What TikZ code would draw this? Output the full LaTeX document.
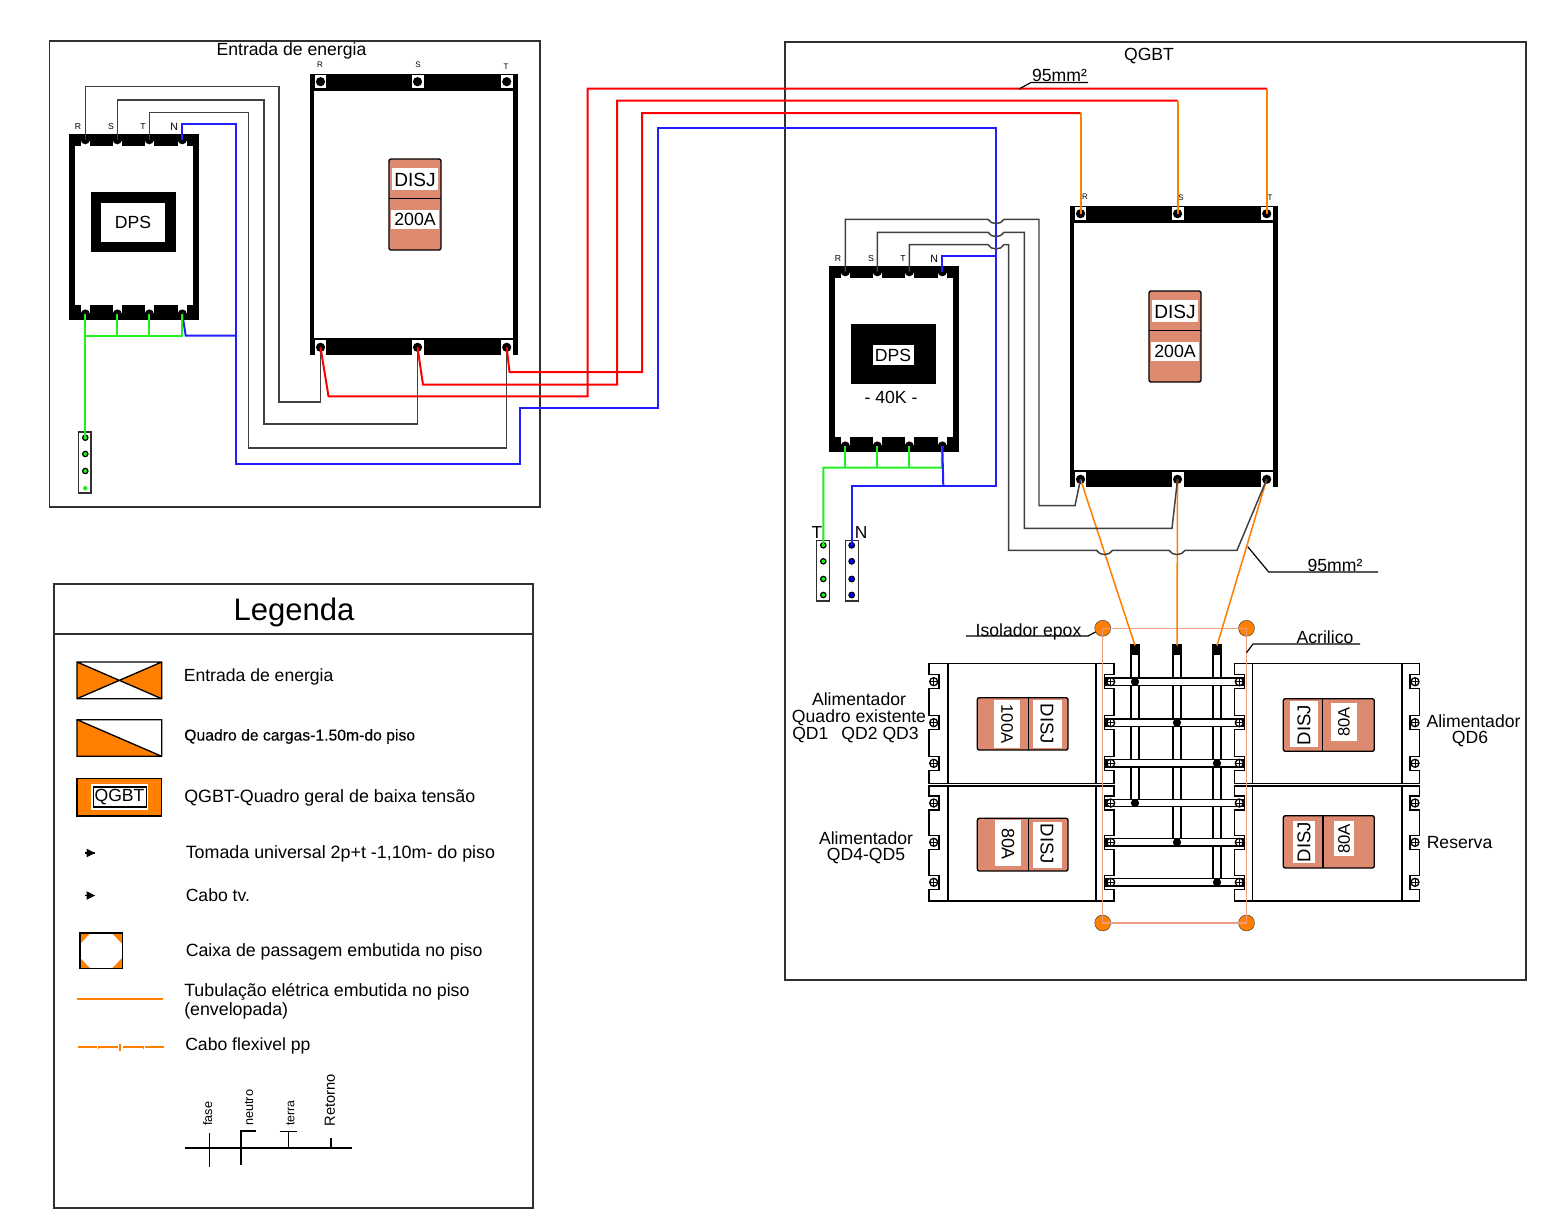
\documentclass[tikz,border=0pt]{standalone}
\usepackage{fontspec}
\setmainfont{Liberation Sans}
\newfontfamily\fakebold[FakeBold=0.25]{Liberation Sans}
\definecolor{brk}{HTML}{DE8A70}
\definecolor{org}{HTML}{FF8000}
\definecolor{acr}{HTML}{F09C80}
\definecolor{gwire}{HTML}{22EE22}
\definecolor{bwire}{HTML}{2020FF}
\definecolor{kwire}{HTML}{404040}
\definecolor{frm}{HTML}{303030}
\tikzset{
  txt/.style={inner sep=0pt,font=\fontsize{13.2}{15}\selectfont},
  dtxt/.style={txt,yshift=-1.1pt},
  lbl/.style={inner sep=0pt,font=\fontsize{14.3}{16}\selectfont},
  rlbl/.style={inner sep=0pt,font=\fontsize{13.9}{16}\selectfont},
  tiny/.style={inner sep=0pt,font=\fontsize{6}{7}\selectfont},
  term/.style={circle,fill=black,inner sep=0pt,minimum size=6.9pt},
  gdot/.style={circle,fill=gwire,draw=black,line width=0.9pt,inner sep=0pt,minimum size=4pt},
  ndot/.style={circle,fill=blue!90!black,draw=black,line width=0.7pt,inner sep=0pt,minimum size=4.4pt},
  bdot/.style={circle,fill=black,inner sep=0pt,minimum size=6.2pt},
  wire/.style={line width=1.5pt,line join=miter},
  kw/.style={line width=1.1pt,line join=miter,draw=kwire},
  rw/.style={wire,draw=red},
  ow/.style={wire,draw=org},
  blw/.style={wire,draw=bwire},
  grw/.style={wire,draw=gwire},
  frame/.style={draw=frm,line width=1.1pt},
  pline/.style={draw=black,line width=1pt},
  iso/.style={circle,fill=org,draw=frm,line width=0.3pt,inner sep=0pt,minimum size=12pt},
  lead/.style={draw=black,line width=0.9pt},
}
% DPS body: terminals named R,S,T,N (top) and r,s,t,n (bottom)
\newcommand{\dpsbody}{%
  \fill[black] (69,134) rectangle (198.7,320);
  \fill[white] (75,145.6) rectangle (192.6,305);
  \foreach \x in {85.3,117.3,149.3,182.3}{
    \fill[white] (\x-4.5,141) rectangle (\x+4.5,146);
    \fill[white] (\x-4.5,305) rectangle (\x+4.5,313);}
  \node[term] (R) at (85.3,139.7) {};
  \node[term] (S) at (117.3,139.7) {};
  \node[term] (T) at (149.3,139.7) {};
  \node[term] (N) at (182.3,139.7) {};
  \node[term] (r) at (85.3,314) {};
  \node[term] (s) at (117.3,314) {};
  \node[term] (t) at (149.3,314) {};
  \node[term] (n) at (182.3,314) {};
  \node[tiny,font=\fontsize{6.5}{7}\selectfont] (lR) at (78,127) {R};
  \node[tiny,font=\fontsize{6.5}{7}\selectfont] (lS) at (111,127) {S};
  \node[tiny,font=\fontsize{6.5}{7}\selectfont] (lT) at (143,127) {T};
  \node[tiny,font=\fontsize{8}{9}\selectfont] (lN) at (174.3,127) {N};
}
% breaker body: terminals R,S,T (top) r,s,t (bottom)
\newcommand{\brkbody}{%
  \fill[black] (309.6,74) rectangle (517.5,355);
  \fill[white] (314.3,91) rectangle (512.8,338);
  \foreach \x/\w in {320.5/5.5,417.5/6,506.7/6}{
    \fill[white] (\x-\w,75) rectangle (\x+\w,88);
    \fill[white] (\x-\w,339.5) rectangle (\x+\w,355);}
  \node[term] (R) at (320.5,81.7) {};
  \node[term] (S) at (417.5,81.7) {};
  \node[term] (T) at (506.7,81.7) {};
  \node[term] (r) at (320.5,347.3) {};
  \node[term] (s) at (417.5,347.3) {};
  \node[term] (t) at (506.7,347.3) {};
  \draw[black,fill=brk,line width=1pt,rounded corners=1.5pt] (389,159) rectangle (441,250);
  \draw[black,line width=1pt] (389,198.7) -- (441,198.7);
  \fill[white] (392,168) rectangle (438,190);
  \fill[white] (391,210) rectangle (439,229);
  \node[lbl] (dj) at (415,179.5) {DISJ};
  \node[lbl,font=\fontsize{13.3}{16}\selectfont] (am) at (415,219.5) {200A};
}
% panel outline with notches: left x, left notch x, right notch x, right x, top, bottom, three screw rows
\newcommand{\panel}[9]{%
  \draw[pline,fill=white] (#1,#5) -- (#4,#5)
     -- (#4,#7-7) -- (#3,#7-7) -- (#3,#7+7) -- (#4,#7+7)
     -- (#4,#8-7) -- (#3,#8-7) -- (#3,#8+7) -- (#4,#8+7)
     -- (#4,#9-7) -- (#3,#9-7) -- (#3,#9+7) -- (#4,#9+7)
     -- (#4,#6) -- (#1,#6)
     -- (#1,#9+7) -- (#2,#9+7) -- (#2,#9-7) -- (#1,#9-7)
     -- (#1,#8+7) -- (#2,#8+7) -- (#2,#8-7) -- (#1,#8-7)
     -- (#1,#7+7) -- (#2,#7+7) -- (#2,#7-7) -- (#1,#7-7) -- cycle;
  \draw[pline] (\innA,#5) -- (\innA,#6) (\innB,#5) -- (\innB,#6);
}
\newcommand{\screw}[2]{%
  \draw[black,line width=1pt,fill=white] (#1,#2) circle (4);
  \draw[black,line width=0.75pt] (#1-4,#2) -- (#1+4,#2) (#1,#2-4) -- (#1,#2+4);
}
\newcommand{\hbus}[1]{%
  \draw[pline,fill=white] (1106,#1-3.8) rectangle (1244,#1+3.8);
}
\newcommand{\vbus}[2]{%
  \draw[pline,fill=white] (#1-3.9,645) rectangle (#1+3.9,#2);
  \fill[black] (#1-4.2,645) rectangle (#1+4.2,655);
}
\begin{document}
\begin{tikzpicture}[x=0.75pt,y=-0.75pt]
\useasboundingbox (0,0) rectangle (1562,1228);
\fill[white] (0,0) rectangle (1562,1228);

% ---------- frames
\draw[frame] (49.5,41) rectangle (540,507);
\node[dtxt] (titleE) at (291.5,49) {Entrada de energia};
\draw[frame] (785,42) rectangle (1526,980);
\node[dtxt] (titleQ) at (1149,55) {QGBT};

% ---------- entrance board
\begin{scope}[name prefix=a]\dpsbody\end{scope}
\fill[black] (90.7,192) rectangle (175.7,252);
\fill[white] (100.7,203) rectangle (165,242);
\node[txt] (adps) at (133,222.5) {DPS};
\begin{scope}[name prefix=b]\brkbody\end{scope}
\node[tiny] (blR) at (320,65) {R};
\node[tiny] (blS) at (418,65) {S};
\node[tiny] (blT) at (506,66.5) {T};

% ---------- QGBT devices
\begin{scope}[shift={(760,132)},name prefix=c]\dpsbody\end{scope}
\fill[black] (850.7,324) rectangle (935.7,384.3);
\fill[white] (873,345) rectangle (913.7,364.7);
\node[txt] (cdps) at (893,355) {DPS};
\node[txt] (c40k) at (891,397.5) {- 40K -};
\begin{scope}[shift={(760,132)},name prefix=d]\brkbody\end{scope}
\node[tiny] (dlR) at (1085,197) {R};
\node[tiny] (dlS) at (1181,197.5) {S};
\node[tiny] (dlT) at (1270,198) {T};

% ---------- ground bars
\draw[frame,fill=white] (78.5,432) rectangle (91,493);
\node[gdot] (g1) at (85.3,437.7) {};
\node[gdot] (g2) at (85.3,454) {};
\node[gdot] (g3) at (85.3,471) {};
\node[circle,fill=gwire,inner sep=0pt,minimum size=3.4pt] (g4) at (85.3,488.3) {};
\draw[frame,fill=white] (816.7,540.7) rectangle (829.7,601);
\node[gdot] (t1) at (823.3,545.3) {};
\node[gdot] (t2) at (823.3,561.3) {};
\node[gdot] (t3) at (823.3,579) {};
\node[gdot] (t4) at (823.3,595) {};
\draw[frame,fill=white] (845.7,540.7) rectangle (858.3,601);
\node[ndot] (n1) at (851.7,545.3) {};
\node[ndot] (n2) at (851.7,561.3) {};
\node[ndot] (n3) at (851.7,579) {};
\node[ndot] (n4) at (851.7,595) {};
\node[txt,font=\fontsize{13}{15}\selectfont] (lblT) at (817,532.5) {T};
\node[txt,font=\fontsize{13}{15}\selectfont] (lblN) at (861,533) {N};

% ---------- busbar assembly
\def\innA{948}\def\innB{1096}
\panel{929}{939}{1104.3}{1114}{663.7}{783.5}{681.7}{722.7}{763.3}
\panel{929}{939}{1104.3}{1114}{786}{901}{803}{842.3}{882.3}
\def\innA{1252.7}\def\innB{1402}
\panel{1234.3}{1244.3}{1410}{1419.3}{663.7}{783.5}{681.7}{722.7}{763.3}
\panel{1234.3}{1244.3}{1410}{1419.3}{786}{901}{803}{842.3}{882.3}
\vbus{1135}{803}
\vbus{1177}{842.3}
\vbus{1217}{882.3}
\foreach \y in {681.7,722.7,763.3,803,842.3,882.3}{\hbus{\y}}
\foreach \y in {681.7,722.7,763.3,803,842.3,882.3}{
  \screw{933.7}{\y}\screw{1110.7}{\y}\screw{1239.3}{\y}\screw{1415}{\y}}
\node[bdot] (vR) at (1135,650) {};
\node[bdot] (vS) at (1177,650) {};
\node[bdot] (vT) at (1217,650) {};
\node[bdot] (j1) at (1135,681.7) {};
\node[bdot] (j2) at (1177,722.7) {};
\node[bdot] (j3) at (1217,763.3) {};
\node[bdot] (j4) at (1135,803) {};
\node[bdot] (j5) at (1177,842.3) {};
\node[bdot] (j6) at (1217,882.3) {};

% ---------- small breakers
\draw[black,fill=brk,line width=1pt,rounded corners=1.5pt] (977.3,697.7) rectangle (1068,750);
\draw[black,line width=1pt] (1028.7,697.7) -- (1028.7,750);
\fill[white] (994,700) rectangle (1020,748);
\fill[white] (1033,700) rectangle (1062,748);
\node[rlbl,rotate=-90,font=\fontsize{12.5}{15}\selectfont] (b1a) at (1007,724) {100A};
\node[rlbl,rotate=-90] (b1d) at (1047,724) {DISJ};
\draw[black,fill=brk,line width=1pt,rounded corners=1.5pt] (977.3,818.3) rectangle (1068,871);
\draw[black,line width=1pt] (1028.7,818.3) -- (1028.7,871);
\fill[white] (995,820) rectangle (1021,866);
\fill[white] (1033,822) rectangle (1062,868);
\node[rlbl,rotate=-90,font=\fontsize{13.4}{15}\selectfont] (b2a) at (1008,844) {80A};
\node[rlbl,rotate=-90] (b2d) at (1047,844) {DISJ};
\draw[black,fill=brk,line width=1pt,rounded corners=1.5pt] (1283.3,698.7) rectangle (1374.3,751.3);
\draw[black,line width=1pt] (1322.7,698.7) -- (1322.7,751.3);
\fill[white] (1290,701) rectangle (1318,747);
\fill[white] (1331,703) rectangle (1357,741);
\node[rlbl,rotate=90] (b3d) at (1304,725) {DISJ};
\node[rlbl,rotate=90,font=\fontsize{12.4}{15}\selectfont] (b3a) at (1344,722) {80A};
\draw[black,fill=brk,line width=1pt,rounded corners=1.5pt] (1283.3,815.7) rectangle (1374.3,868);
\draw[black,line width=1pt] (1323,815.7) -- (1323,868);
\fill[white] (1293,821) rectangle (1315,863);
\fill[white] (1334,821) rectangle (1354,856);
\node[rlbl,rotate=90] (b4d) at (1304,842) {DISJ};
\node[rlbl,rotate=90,font=\fontsize{12.6}{15}\selectfont] (b4a) at (1344,839) {80A};

% ---------- insulators / acrylic
\node[iso] (i1) at (1102.7,628.3) {};
\node[iso] (i2) at (1246.5,628.3) {};
\node[iso] (i3) at (1102.7,923) {};
\node[iso] (i4) at (1246.5,923) {};
\draw[draw=acr,line width=0.9pt] (i1.center) -- (i2.center) -- (i4.center) -- (i3.center) -- cycle;

% ---------- entrance wiring
\draw[grw] (ar.center) -- (g1.center);
\draw[grw] (as.center) -- (117.3,335.5);
\draw[grw] (at.center) -- (149.3,335.5);
\draw[grw] (an.center) -- (182.3,335.5) -- (85.3,335.5);
\draw[blw] (an.center) -- (185.7,335.5) -- (236,335.5);
\draw[grw] (an.center) -- (182.3,335.5);
\draw[blw] (aN.center) -- (182.3,124) -- (236,124) -- (236,464.3) -- (520.3,464.3) -- (520.3,408)
   -- (658,408) -- (658,127.5) -- (996,127.5) -- (996,486) -- (851.7,486) -- (n1.center);
\draw[kw] (aR.center) -- (85.3,86.7) -- (279,86.7) -- (279,402) -- (320.5,402) -- (br.center);
\draw[kw] (aS.center) -- (117.3,100) -- (264,100) -- (264,424) -- (417.5,424) -- (bs.center);
\draw[kw] (aT.center) -- (149.3,112.5) -- (248.7,112.5) -- (248.7,448) -- (506.7,448) -- (bt.center);
\draw[rw] (br.center) -- (328.5,396.3) -- (587.5,396.3) -- (587.5,88.5) -- (1267,88.5);
\draw[rw] (bs.center) -- (423,384.7) -- (617,384.7) -- (617,100.5) -- (1177.5,100.5);
\draw[rw] (bt.center) -- (509.5,372) -- (642,372) -- (642,113) -- (1080.5,113);
\draw[ow] (1266.7,88.5) -- (dT.center);
\draw[ow] (1177.5,100.5) -- (dS.center);
\draw[ow] (1080.5,113) -- (dR.center);

% ---------- QGBT wiring
\draw[grw] (cr.center) -- (845.3,467.7);
\draw[grw] (cs.center) -- (877.3,467.7);
\draw[grw] (ct.center) -- (909.3,467.7);
\draw[grw] (cn.center) -- (941.7,467.7) -- (823.3,467.7) -- (t1.center);
\draw[blw] (cn.center) -- (943.3,486);
\draw[blw] (cN.center) -- (942.3,256.3) -- (996,256.3);
\draw[ow,line width=1.15pt] (dr.center) -- (vR.north);
\draw[ow,line width=1.15pt] (ds.center) -- (vS.north);
\draw[ow,line width=1.15pt] (dt.center) -- (vT.north);
\draw[kw] (cR.center) -- (845.3,219.3) -- (988,219.3) .. controls (991,225) and (1001,225) .. (1004,219.3)
   -- (1039,219.3) -- (1039,505.7) -- (1075,505.7) -- (dr.center);
\draw[kw] (cS.center) -- (877.3,232.3) -- (988,232.3) .. controls (991,238) and (1001,238) .. (1004,232.3)
   -- (1024.3,232.3) -- (1024.3,528.3) -- (1172,528.3) -- (ds.center);
\draw[kw] (cT.center) -- (909.3,244.7) -- (988,244.7) .. controls (991,250.4) and (1001,250.4) .. (1004,244.7)
   -- (1008.7,244.7) -- (1008.7,550.3) -- (1096.5,550.3) .. controls (1099.5,556) and (1109.5,556) .. (1112.5,550.3)
   -- (1169,550.3) .. controls (1172,556) and (1182,556) .. (1185,550.3) -- (1237,550.3) -- (dt.center);

% ---------- leaders
\node[txt] (m1) at (1059.5,75.5) {95mm²};
\draw[lead] (1019,89) -- (1031,82.5) -- (1088,82.5);
\node[txt] (m2) at (1335,565.5) {95mm²};
\draw[lead] (1247.7,546.7) -- (1268.7,572) -- (1378,572);
\node[dtxt] (isol) at (1028.5,630) {Isolador epox};
\draw[lead] (966,636) -- (1088,636) -- (i1);
\node[txt] (acri) at (1325,637.5) {Acrilico};
\draw[lead] (1246.5,652.7) -- (1253,644) -- (1360,644);

% ---------- feeder labels
\node[txt,align=center,font=\fontsize{13.2}{12.6}\selectfont] (f1) at (859,717.5) {Alimentador\\Quadro existente\\QD1\hspace{0.74em}QD2 QD3\hspace{0.4em}\mbox{}};
\node[txt,align=center,font=\fontsize{13.2}{12}\selectfont] (f4) at (1473.5,731) {Alimentador\\QD6\hspace{0.4em}\mbox{}};
\node[txt,align=center,font=\fontsize{13.2}{12}\selectfont] (f6) at (866,847.5) {Alimentador\\QD4-QD5};
\node[txt,anchor=west] (f8) at (1426.5,843) {Reserva};

% ---------- legend
\draw[frame] (54,584) rectangle (533,1208);
\draw[frm,line width=0.8pt] (54,634) -- (533,634);
\node[inner sep=0pt,font=\fontsize{23.3}{26}\selectfont,yshift=-2pt] (leg) at (294,610) {Legenda};

\fill[org] (77,662) -- (119.3,680.3) -- (77,698.7) -- cycle;
\fill[org] (161.7,662) -- (119.3,680.3) -- (161.7,698.7) -- cycle;
\draw[black,line width=1pt] (77,662) rectangle (161.7,698.7) (77,662) -- (161.7,698.7) (77,698.7) -- (161.7,662);
\node[dtxt,anchor=west] (e1) at (183.5,675.5) {Entrada de energia};

\fill[org] (77,719.7) -- (161.7,756.3) -- (77,756.3) -- cycle;
\draw[black,line width=1pt] (77,719.7) rectangle (161.7,756.3) (77,719.7) -- (161.7,756.3);
\node[dtxt,anchor=west,font=\fontsize{11.8}{14}\selectfont\fakebold] (e2) at (184,735) {Quadro de cargas-1.50m-do piso};

\draw[black,fill=org,line width=1pt] (77,778.7) rectangle (161.7,816);
\fill[white] (91,784) rectangle (147.7,810);
\draw[black,line width=0.8pt] (93.3,787) rectangle (146.7,807);
\node[txt] (e3q) at (119.5,797) {QGBT};
\node[dtxt,anchor=west,font=\fontsize{13.4}{15}\selectfont] (e3) at (184,796) {QGBT-Quadro geral de baixa tensão};

\draw[black,line width=0.8pt] (85,853) -- (95,853);
\fill[black] (86.5,848.7) -- (95,853) -- (86.5,857.3) -- cycle;
\node[dtxt,anchor=west,font=\fontsize{13.4}{15}\selectfont] (e4) at (185.5,852.5) {Tomada universal 2p+t -1,10m- do piso};
\draw[black,line width=0.8pt] (85,895.5) -- (95,895.5);
\fill[black] (86.5,891.2) -- (95,895.5) -- (86.5,899.8) -- cycle;
\node[txt,anchor=west] (e5) at (185.5,895) {Cabo tv.};

\fill[org] (80,933) -- (90.5,933) -- (80,944) -- cycle;
\fill[org] (122.3,933) -- (111.8,933) -- (122.3,944) -- cycle;
\fill[org] (80,968.7) -- (90.5,968.7) -- (80,957.7) -- cycle;
\fill[org] (122.3,968.7) -- (111.8,968.7) -- (122.3,957.7) -- cycle;
\draw[black,line width=1pt] (80,933) rectangle (122.3,968.7);
\node[dtxt,anchor=west,font=\fontsize{13.3}{15}\selectfont] (e6) at (185.5,950) {Caixa de passagem embutida no piso};

\draw[org,line width=1.5pt] (77,999.3) -- (163,999.3);
\node[dtxt,anchor=west,font=\fontsize{13.35}{15}\selectfont] (e7) at (184,990.5) {Tubulação elétrica embutida no piso};
\node[dtxt,anchor=west,font=\fontsize{13.35}{15}\selectfont] (e7b) at (184,1009.5) {(envelopada)};

\draw[org,line width=1.5pt] (78,1047) -- (164,1047);
\draw[white,line width=2pt] (97,1047) -- (98,1047) (118,1047) -- (123,1047) (143,1047) -- (145,1047);
\draw[org,line width=0.9pt] (120,1043.5) -- (120,1051);
\draw[org,line width=0.6pt] (98,1045.5) -- (98,1048.5) (143,1045.5) -- (143,1048.5);
\node[dtxt,anchor=west] (e8) at (185,1044.5) {Cabo flexivel pp};

\draw[black,line width=0.9pt] (185,1148) -- (352,1148);
\draw[black,line width=0.9pt] (209.3,1133) -- (209.3,1167);
\draw[black,line width=0.9pt] (241,1165) -- (241,1131) -- (255.7,1131);
\draw[black,line width=0.9pt] (288.3,1148) -- (288.3,1131.7) (279.7,1131.7) -- (297.3,1131.7);
\draw[black,line width=0.9pt] (331,1148) -- (331,1138.3);
\node[inner sep=0pt,rotate=90,anchor=west,font=\fontsize{9.5}{11}\selectfont] (w1) at (207.5,1126) {fase};
\node[inner sep=0pt,rotate=90,anchor=west,font=\fontsize{9.5}{11}\selectfont] (w2) at (249,1126) {neutro};
\node[inner sep=0pt,rotate=90,anchor=west,font=\fontsize{9.2}{11}\selectfont] (w3) at (290.5,1126) {terra};
\node[inner sep=0pt,rotate=90,anchor=west,font=\fontsize{11}{13}\selectfont] (w4) at (330,1126.5) {Retorno};
\end{tikzpicture}
\end{document}
